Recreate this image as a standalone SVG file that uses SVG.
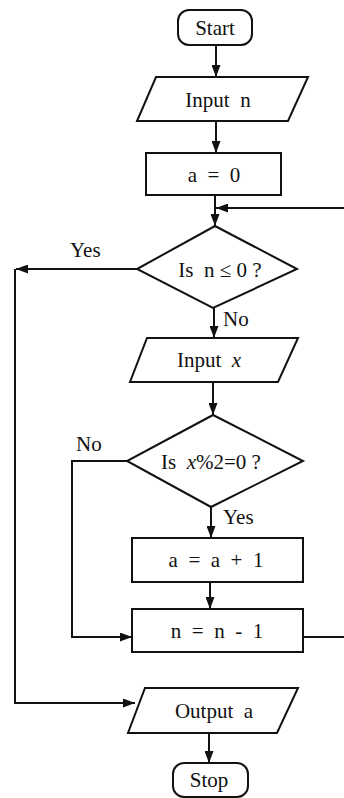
<svg xmlns="http://www.w3.org/2000/svg" width="344" height="798" viewBox="0 0 344 798">
<defs>
<marker id="ah" viewBox="0 0 12 9" refX="12" refY="4.5" markerWidth="12" markerHeight="9" markerUnits="userSpaceOnUse" orient="auto">
<path d="M0,0 L12,4.5 L0,9 Z" fill="#111"/>
</marker>
<style>
.s{fill:#fff;stroke:#111;stroke-width:2}
.c{fill:none;stroke:#111;stroke-width:2}
.t{font-family:"Liberation Serif","Times New Roman",serif;font-size:21px;fill:#111;text-anchor:middle;dominant-baseline:central;white-space:pre}
.l{font-family:"Liberation Serif","Times New Roman",serif;font-size:21px;fill:#111}
</style>
</defs>
<rect width="344" height="798" fill="#fff"/>
<g id="connectors">
<path class="c" d="M216,45 V77" marker-end="url(#ah)"/>
<path class="c" d="M216,121 V153" marker-end="url(#ah)"/>
<path class="c" d="M215,195 V226" marker-end="url(#ah)"/>
<path class="c" d="M303,637 H346 V208 H216" marker-end="url(#ah)"/>
<path class="c" d="M137,269 H16" marker-end="url(#ah)"/>
<path class="c" d="M15,269 V703 H135" marker-end="url(#ah)"/>
<path class="c" d="M214,308 V338" marker-end="url(#ah)"/>
<path class="c" d="M213,382 V415" marker-end="url(#ah)"/>
<path class="c" d="M127,461 H72 V637 H132" marker-end="url(#ah)"/>
<path class="c" d="M211,507 V538" marker-end="url(#ah)"/>
<path class="c" d="M210,582 V609" marker-end="url(#ah)"/>
<path class="c" d="M209,733 V763" marker-end="url(#ah)"/>
<text class="l" x="70" y="257">Yes</text>
<text class="l" x="223" y="326">No</text>
<text class="l" x="76" y="451">No</text>
<text class="l" x="223" y="524">Yes</text>
</g>
<g id="start">
<rect class="s" x="178" y="10" width="74" height="35" rx="11"/>
<text class="t" x="215" y="28" font-size="22">Start</text>
</g>
<g id="input-n">
<path class="s" d="M156,77 H308 L288,121 H137 Z"/>
<text class="t" x="218" y="100">Input  n</text>
</g>
<g id="a-zero">
<rect class="s" x="146" y="153" width="135" height="42"/>
<text class="t" x="214" y="175">a  =  0</text>
</g>
<g id="check-n">
<path class="s" d="M215,226 L297,269 L213,308 L137,269 Z"/>
<text class="t" x="220" y="270">Is  n ≤ 0 ?</text>
</g>
<g id="input-x">
<path class="s" d="M147,338 H298 L278,382 H130 Z"/>
<text class="t" x="209" y="360">Input  <tspan font-style="italic">x</tspan></text>
</g>
<g id="check-x">
<path class="s" d="M213,415 L303,461 L211,507 L127,461 Z"/>
<text class="t" x="211" y="462">Is  <tspan font-style="italic">x</tspan>%2=0 ?</text>
</g>
<g id="a-inc">
<rect class="s" x="132" y="538" width="171" height="44"/>
<text class="t" x="216" y="560">a  =  a  +  1</text>
</g>
<g id="n-dec">
<rect class="s" x="132" y="609" width="171" height="43"/>
<text class="t" x="217" y="631">n  =  n  -  1</text>
</g>
<g id="output-a">
<path class="s" d="M145,688 H298 L277,733 H128 Z"/>
<text class="t" x="214" y="711">Output  a</text>
</g>
<g id="stop">
<rect class="s" x="173" y="763" width="75" height="34" rx="11"/>
<text class="t" x="209" y="780" font-size="22">Stop</text>
</g>
</svg>
